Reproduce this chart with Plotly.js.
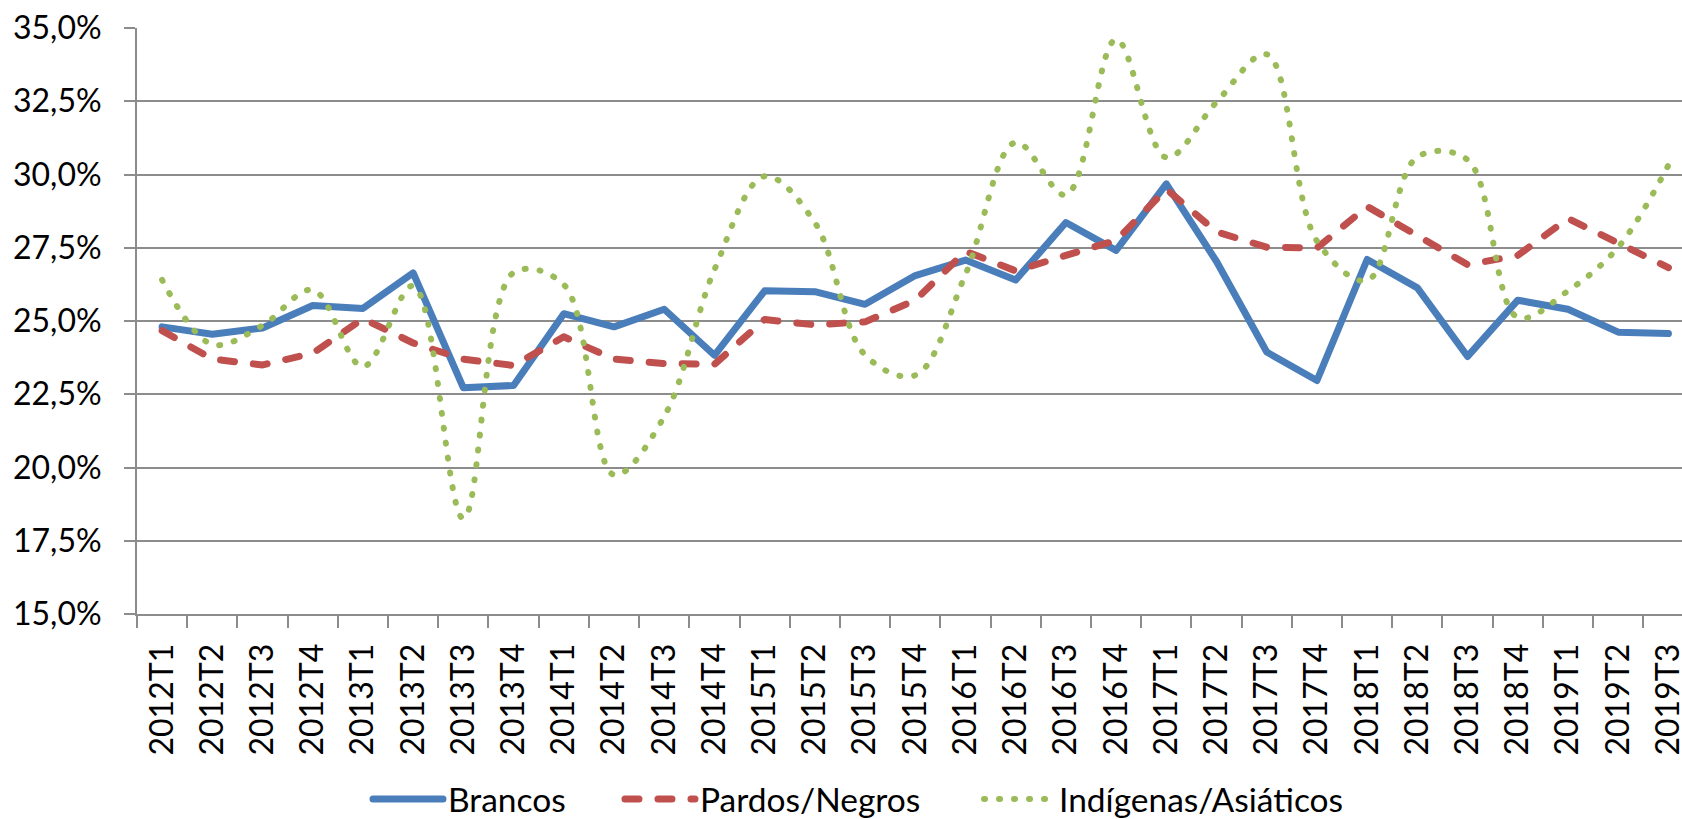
<!DOCTYPE html>
<html>
<head>
<meta charset="utf-8">
<script src="https://cdn.plot.ly/plotly-3.0.1.min.js"></script>
<style>
html, body { margin: 0; padding: 0; background: #ffffff; }
#chart { width: 1682px; height: 819px; }
</style>
</head>
<body>
<div id="chart"></div>
<script>
// ---- Data ----
const quarters = [
  "2012T1","2012T2","2012T3","2012T4",
  "2013T1","2013T2","2013T3","2013T4",
  "2014T1","2014T2","2014T3","2014T4",
  "2015T1","2015T2","2015T3","2015T4",
  "2016T1","2016T2","2016T3","2016T4",
  "2017T1","2017T2","2017T3","2017T4",
  "2018T1","2018T2","2018T3","2018T4",
  "2019T1","2019T2","2019T3"
];

const brancos = [
  24.80, 24.55, 24.76, 25.53,
  25.43, 26.64, 22.72, 22.80,
  25.25, 24.80, 25.40, 23.83,
  26.03, 26.00, 25.57, 26.55,
  27.08, 26.40, 28.36, 27.41,
  29.68, 27.03, 23.94, 22.97,
  27.10, 26.13, 23.79, 25.71,
  25.40, 24.62, 24.57
];

const pardosNegros = [
  24.67, 23.70, 23.50, 23.90,
  25.08, 24.25, 23.70, 23.48,
  24.46, 23.70, 23.55, 23.52,
  25.05, 24.87, 24.97, 25.71,
  27.38, 26.71, 27.24, 27.75,
  29.50, 28.04, 27.52, 27.49,
  28.91, 27.90, 26.92, 27.24,
  28.50, 27.66, 26.82
];

const indigenasAsiaticos = [
  26.40, 24.20, 24.85, 26.06,
  23.44, 26.20, 18.26, 26.65,
  26.24, 19.75, 21.74, 26.75,
  29.94, 28.36, 23.84, 23.15,
  26.59, 31.10, 29.30, 34.61,
  30.58, 32.47, 34.10, 27.73,
  26.38, 30.60, 30.50, 25.12,
  26.03, 27.52, 30.32
];

const seriesNames = ["Brancos", "Pardos/Negros", "Indígenas/Asiáticos"];
const yTickValues = [15, 17.5, 20, 22.5, 25, 27.5, 30, 32.5, 35];
const yTickLabels = ["15,0%", "17,5%", "20,0%", "22,5%", "25,0%", "27,5%", "30,0%", "32,5%", "35,0%"];

// ---- Styling ----
const FONT = 'Lato, "Open Sans", "Liberation Sans", sans-serif';
const GRID = '#8c8c8c';
const BLUE = '#4a7ebb';
const RED = '#c0504d';
const GREEN = '#9bbb59';

const traces = [
  {
    type: 'scatter', mode: 'lines', name: seriesNames[0], legend: 'legend',
    x: quarters, y: brancos,
    line: { color: BLUE, width: 7 },
    hoverinfo: 'skip'
  },
  {
    type: 'scatter', mode: 'lines', name: seriesNames[1], legend: 'legend2',
    x: quarters, y: pardosNegros,
    line: { color: RED, width: 7, dash: '14px,19px' },
    hoverinfo: 'skip'
  },
  {
    type: 'scatter', mode: 'lines', name: seriesNames[2], legend: 'legend3',
    x: quarters, y: indigenasAsiaticos,
    line: { color: GREEN, width: 6, dash: '1px,14px', shape: 'spline', smoothing: 1 },
    hoverinfo: 'skip'
  }
];

function legendAt(xPaper) {
  return {
    orientation: 'h',
    x: xPaper, xanchor: 'left',
    y: -0.316, yanchor: 'middle',
    font: { family: FONT, size: 33.5, color: '#000000' },
    itemwidth: 70,
    bgcolor: 'rgba(0,0,0,0)'
  };
}

const layout = {
  width: 1682,
  height: 819,
  margin: { l: 137, r: 0, t: 28, b: 205, pad: 0, autoexpand: false },
  paper_bgcolor: '#ffffff',
  plot_bgcolor: '#ffffff',
  font: { family: FONT, size: 32, color: '#000000' },
  showlegend: true,
  legend: legendAt(0.1495),
  legend2: legendAt(0.3126),
  legend3: legendAt(0.545),
  xaxis: {
    type: 'category',
    range: [-0.5, 30.27],
    tickangle: -90,
    ticks: 'outside',
    tickson: 'boundaries',
    ticklen: 12,
    tickwidth: 2,
    tickcolor: GRID,
    showline: true,
    linecolor: GRID,
    linewidth: 2,
    showgrid: false,
    zeroline: false,
    tickfont: { family: FONT, size: 32, color: '#000000' },
    ticklabelstandoff: 15,
    fixedrange: true
  },
  yaxis: {
    range: [15, 35],
    tickmode: 'array',
    tickvals: yTickValues,
    ticktext: yTickLabels,
    ticks: 'outside',
    ticklen: 11,
    tickwidth: 2,
    tickcolor: GRID,
    showline: true,
    linecolor: GRID,
    linewidth: 2,
    showgrid: true,
    gridcolor: GRID,
    gridwidth: 2,
    zeroline: false,
    tickfont: { family: FONT, size: 32, color: '#000000' },
    ticklabelstandoff: 16,
    fixedrange: true
  }
};

Plotly.newPlot('chart', traces, layout, { staticPlot: true, displayModeBar: false }).then(function (gd) {
  gd.querySelectorAll('path.js-line').forEach(function (p) {
    p.style.strokeLinecap = 'round';
    p.style.strokeLinejoin = 'round';
  });
});
</script>
</body>
</html>
